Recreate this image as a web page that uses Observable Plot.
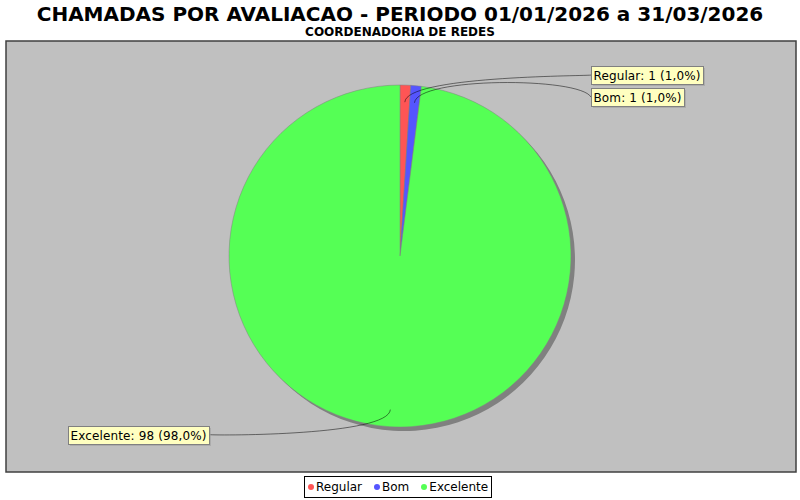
<!DOCTYPE html>
<html>
<head>
<meta charset="utf-8">
<script src="https://cdn.jsdelivr.net/npm/d3@7"></script>
<script src="https://cdn.jsdelivr.net/npm/@observablehq/plot@0.6"></script>
<style>
  body { margin: 0; background: #fff; font-family: "DejaVu Sans", sans-serif; }
  #wrap { position: relative; width: 800px; height: 500px; overflow: hidden; background: #fff; }
  #title { position: absolute; left: 0; top: 2px; width: 800px; text-align: center; font: bold 20px "DejaVu Sans"; color: #000; white-space: nowrap; }
  #subtitle { position: absolute; left: 0; top: 25px; width: 800px; text-align: center; font: bold 12px "DejaVu Sans"; color: #000; white-space: nowrap; }
  #chart { position: absolute; left: 0; top: 40px; }
  #legend { position: absolute; left: 304px; top: 476px; height: 22px; border: 1px solid #000; background: #fff; display: flex; align-items: center; padding: 0 3px; box-sizing: border-box; font: 12px "DejaVu Sans"; color: #000; white-space: nowrap; }
  .item { display: flex; align-items: center; }
  .item + .item { margin-left: 12px; }
  .dot { width: 6px; height: 6px; border-radius: 50%; margin-right: 2px; }
</style>
</head>
<body>
<div id="wrap">
  <div id="title"></div>
  <div id="subtitle"></div>
  <div id="chart"></div>
  <div id="legend"></div>
</div>
<script>
// ---- data ----
const titleText = "CHAMADAS POR AVALIACAO - PERIODO 01/01/2026 a 31/03/2026";
const subtitleText = "COORDENADORIA DE REDES";
const categories = ["Regular", "Bom", "Excelente"];
const values = [1, 1, 98];
const colors = ["#FF5555", "#5555FF", "#55FF55"];

document.getElementById("title").textContent = titleText;
document.getElementById("subtitle").textContent = subtitleText;

const data = categories.map((c, i) => ({category: c, value: values[i]}));
const total = d3.sum(values);
const pct = v => (v / total * 100).toFixed(1).replace(".", ",") + "%";
const arcs = d3.pie().sort(null).value(d => d.value)(data);

function pieMark(index, scales, channels, dimensions, context) {
  const sx = scales.x || d3.scaleLinear([-1, 1], [229, 571]);
  const sy = scales.y || d3.scaleLinear([-1, 1], [387, 45]);
  const color = scales.color || (k => colors[categories.indexOf(k)]);
  const cx = sx(0), cy = sy(0);
  const R = sx(1) - sx(0);
  const L = 1 / 0.95;       // link area radius (relative)
  const depth = 0.9;        // link start depth (relative)
  const gap = 11;           // label gap (px)
  const g = d3.create("svg:g").attr("text-anchor", "start");

  // shadow
  g.append("g").attr("transform", `translate(${cx + 4},${cy + 4})`)
    .selectAll("path").data(arcs).join("path")
    .attr("d", d3.arc().innerRadius(0).outerRadius(R))
    .attr("fill", "#808080");

  // slices
  g.append("g").attr("transform", `translate(${cx},${cy})`)
    .selectAll("path").data(arcs).join("path")
    .attr("d", d3.arc().innerRadius(0).outerRadius(R))
    .attr("fill", d => color(d.data.category))
    .attr("stroke", "#808080").attr("stroke-width", 0.5);

  // labels
  const ctx = document.createElement("canvas").getContext("2d");
  ctx.font = "12px 'DejaVu Sans'";
  const textWidth = t => d3.sum(Array.from(t), ch => Math.round(ctx.measureText(ch).width));
  const recs = arcs.map(a => {
    const m = (a.startAngle + a.endAngle) / 2;
    const s = Math.sin(m), c = Math.cos(m);
    const right = s >= 0;
    return {
      text: `${a.data.category}: ${a.data.value} (${pct(a.data.value)})`,
      right,
      linkX: sx(depth * s), linkY: sy(depth * c),
      elbowX: sx(L * s), elbowY: sy(L * c),
      anchorX: right ? sx(L) : sx(-L)
    };
  });
  for (const side of [true, false]) {
    const rs = recs.filter(r => r.right === side).sort((a, b) => a.elbowY - b.elbowY);
    let prev = -Infinity;
    for (const r of rs) { r.y = Math.max(r.elbowY - 1, prev + 22); prev = r.y; }
  }
  const h = 18, pad = 2;
  for (const r of recs) {
    const tx = r.right ? r.anchorX + gap : r.anchorX - gap;
    const p = d3.path();
    p.moveTo(tx, r.y);
    p.bezierCurveTo(r.anchorX, r.elbowY, r.elbowX, r.elbowY, r.linkX, r.linkY);
    g.append("path").attr("d", p.toString()).attr("fill", "none")
      .attr("stroke", "#000").attr("stroke-width", 0.5);
    const tw = textWidth(r.text);
    const w = tw + 2 * pad + 1;
    const bx = Math.round(r.right ? tx : tx - w);
    const by = Math.round(r.y - h / 2);
    g.append("rect").attr("x", bx + 2).attr("y", by + 2).attr("width", w).attr("height", h)
      .attr("fill", "rgb(151,151,151)").attr("fill-opacity", 0.5);
    g.append("rect").attr("x", bx + 0.5).attr("y", by + 0.5).attr("width", w).attr("height", h)
      .attr("fill", "#FFFFC0").attr("stroke", "#808080").attr("stroke-width", 1);
    g.append("text").attr("x", bx + pad + 0.5).attr("y", by + 13.5)
      .attr("text-anchor", "start")
      .attr("textLength", tw).attr("lengthAdjust", "spacing")
      .attr("font-family", "DejaVu Sans").attr("font-size", 12).attr("fill", "#000")
      .text(r.text);
  }
  return g.node();
}

const chart = Plot.plot({
  width: 800,
  height: 432,
  marginLeft: 5.5,
  marginRight: 4.5,
  marginTop: 0.5,
  marginBottom: 0.5,
  style: {background: "transparent", overflow: "visible"},
  x: {domain: [-1, 1], range: [229, 571], axis: null},
  y: {domain: [-1, 1], range: [387, 45], axis: null},
  color: {domain: categories, range: colors},
  marks: [
    Plot.frame({fill: "#C0C0C0", stroke: "#404040", strokeWidth: 1.5}),
    pieMark
  ]
});
document.getElementById("chart").appendChild(chart);

const legend = d3.select("#legend");
categories.forEach((c, i) => {
  const it = legend.append("div").attr("class", "item");
  it.append("div").attr("class", "dot").style("background", colors[i]);
  it.append("span").text(c);
});
</script>
</body>
</html>
